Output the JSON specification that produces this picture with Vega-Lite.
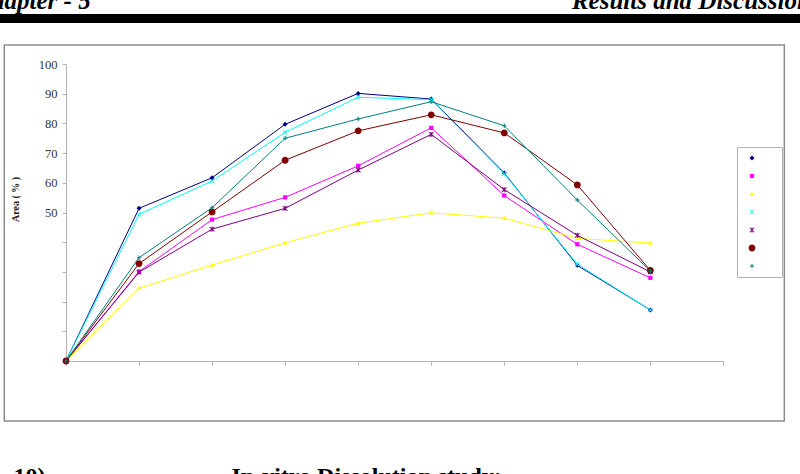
{
  "$schema": "https://vega.github.io/schema/vega-lite/v6.json",
  "width": 657.4,
  "height": 297,
  "autosize": {"type": "none"},
  "padding": {"left": 66, "top": 64, "right": 76.6, "bottom": 113},
  "background": "white",
  "title": {
    "text": "Chapter - 5\u00a0\u00a0\u00a0\u00a0\u00a0\u00a0\u00a0\u00a0\u00a0\u00a0\u00a0\u00a0\u00a0\u00a0\u00a0\u00a0\u00a0\u00a0\u00a0\u00a0\u00a0\u00a0\u00a0\u00a0\u00a0\u00a0\u00a0\u00a0\u00a0\u00a0\u00a0\u00a0\u00a0\u00a0\u00a0\u00a0\u00a0\u00a0\u00a0\u00a0\u00a0\u00a0\u00a0\u00a0\u00a0\u00a0\u00a0\u00a0\u00a0\u00a0\u00a0\u00a0\u00a0\u00a0\u00a0\u00a0\u00a0\u00a0\u00a0\u00a0\u00a0\u00a0\u00a0\u00a0\u00a0\u00a0\u00a0\u00a0\u00a0\u00a0\u00a0\u00a0\u00a0\u00a0\u00a0\u00a0\u00a0Results and Discussion",
    "anchor": "start",
    "frame": "group",
    "orient": "top",
    "dx": -92,
    "offset": -20,
    "baseline": "alphabetic",
    "font": "Liberation Serif",
    "fontSize": 25,
    "fontWeight": "bold",
    "fontStyle": "italic",
    "color": "black"
  },
  "layer": [
    {
      "data": {"values": [{}]},
      "mark": {"type": "rect", "fill": "transparent", "stroke": "#8c8c8c", "strokeWidth": 1.5},
      "encoding": {
        "x": {
          "datum": -0.845, "type": "quantitative",
          "scale": {"domain": [0, 9], "nice": false, "zero": false},
          "axis": {
            "values": [0, 1, 2, 3, 4, 5, 6, 7, 8, 9],
            "labels": false, "domain": true, "domainColor": "#b4b4b4", "grid": false,
            "tickSize": 4, "tickColor": "#b4b4b4",
            "title": "10)\u00a0\u00a0\u00a0\u00a0\u00a0\u00a0\u00a0\u00a0\u00a0\u00a0\u00a0\u00a0\u00a0\u00a0\u00a0\u00a0\u00a0\u00a0\u00a0\u00a0\u00a0\u00a0\u00a0\u00a0\u00a0\u00a0\u00a0\u00a0\u00a0\u00a0\u00a0In-vitro Dissolution study:",
            "titleX": -53, "titleY": 122, "titleAnchor": "start", "titleAlign": "left", "titleBaseline": "alphabetic",
            "titleFont": "Liberation Serif", "titleFontSize": 24, "titleFontWeight": "bold", "titleColor": "black"
          }
        },
        "x2": {"datum": 9.834},
        "y": {
          "datum": -20.2, "type": "quantitative",
          "scale": {"domain": [0, 100], "nice": false, "zero": false},
          "axis": {
            "values": [0, 10, 20, 30, 40, 50, 60, 70, 80, 90, 100],
            "labelExpr": "datum.value >= 50 ? datum.label : ''", "labelOverlap": false,
            "domain": true, "domainColor": "#b4b4b4", "grid": false,
            "tickSize": 4, "tickColor": "#b4b4b4",
            "labelFont": "Liberation Serif", "labelFontSize": 12.5, "labelColor": "#333333", "labelPadding": 5,
            "title": "Area ( % )",
            "titleX": -51, "titleY": 135, "titleAngle": 270, "titleAlign": "center", "titleBaseline": "middle",
            "titleFont": "Liberation Serif", "titleFontSize": 10, "titleFontWeight": "bold", "titleColor": "#222222"
          }
        },
        "y2": {"datum": 106.4}
      }
    },
    {
      "data": {"values": [{}]},
      "mark": {"type": "rule", "stroke": "black", "strokeWidth": 9},
      "encoding": {
        "x": {
          "datum": -0.91, "type": "quantitative",
          "scale": {"domain": [0, 9], "nice": false, "zero": false},
          "axis": {
            "values": [0, 1, 2, 3, 4, 5, 6, 7, 8, 9],
            "labels": false, "domain": true, "domainColor": "#b4b4b4", "grid": false,
            "tickSize": 4, "tickColor": "#b4b4b4",
            "title": "10)\u00a0\u00a0\u00a0\u00a0\u00a0\u00a0\u00a0\u00a0\u00a0\u00a0\u00a0\u00a0\u00a0\u00a0\u00a0\u00a0\u00a0\u00a0\u00a0\u00a0\u00a0\u00a0\u00a0\u00a0\u00a0\u00a0\u00a0\u00a0\u00a0\u00a0\u00a0In-vitro Dissolution study:",
            "titleX": -53, "titleY": 122, "titleAnchor": "start", "titleAlign": "left", "titleBaseline": "alphabetic",
            "titleFont": "Liberation Serif", "titleFontSize": 24, "titleFontWeight": "bold", "titleColor": "black"
          }
        },
        "x2": {"datum": 10.1},
        "y": {
          "datum": 115.3, "type": "quantitative",
          "scale": {"domain": [0, 100], "nice": false, "zero": false},
          "axis": {
            "values": [0, 10, 20, 30, 40, 50, 60, 70, 80, 90, 100],
            "labelExpr": "datum.value >= 50 ? datum.label : ''", "labelOverlap": false,
            "domain": true, "domainColor": "#b4b4b4", "grid": false,
            "tickSize": 4, "tickColor": "#b4b4b4",
            "labelFont": "Liberation Serif", "labelFontSize": 12.5, "labelColor": "#333333", "labelPadding": 5,
            "title": "Area ( % )",
            "titleX": -51, "titleY": 135, "titleAngle": 270, "titleAlign": "center", "titleBaseline": "middle",
            "titleFont": "Liberation Serif", "titleFontSize": 10, "titleFontWeight": "bold", "titleColor": "#222222"
          }
        }
      }
    },
    {
      "data": {
        "values": [
          {"t": 0, "v": 0, "s": "F1"}, {"t": 1, "v": 51.4, "s": "F1"}, {"t": 2, "v": 61.7, "s": "F1"}, {"t": 3, "v": 79.7, "s": "F1"}, {"t": 4, "v": 90.1, "s": "F1"}, {"t": 5, "v": 88.2, "s": "F1"}, {"t": 6, "v": 63.3, "s": "F1"}, {"t": 7, "v": 32.2, "s": "F1"}, {"t": 8, "v": 17.2, "s": "F1"},
          {"t": 0, "v": 0, "s": "F2"}, {"t": 1, "v": 30.1, "s": "F2"}, {"t": 2, "v": 47.6, "s": "F2"}, {"t": 3, "v": 55.1, "s": "F2"}, {"t": 4, "v": 65.7, "s": "F2"}, {"t": 5, "v": 78.5, "s": "F2"}, {"t": 6, "v": 55.7, "s": "F2"}, {"t": 7, "v": 39.3, "s": "F2"}, {"t": 8, "v": 28.0, "s": "F2"},
          {"t": 0, "v": 0, "s": "F3"}, {"t": 1, "v": 24.5, "s": "F3"}, {"t": 2, "v": 32.3, "s": "F3"}, {"t": 3, "v": 39.8, "s": "F3"}, {"t": 4, "v": 46.4, "s": "F3"}, {"t": 5, "v": 49.9, "s": "F3"}, {"t": 6, "v": 48.1, "s": "F3"}, {"t": 7, "v": 41.3, "s": "F3"}, {"t": 8, "v": 39.7, "s": "F3"},
          {"t": 0, "v": 0, "s": "F4"}, {"t": 1, "v": 49.4, "s": "F4"}, {"t": 2, "v": 60.6, "s": "F4"}, {"t": 3, "v": 77.0, "s": "F4"}, {"t": 4, "v": 88.8, "s": "F4"}, {"t": 5, "v": 88.0, "s": "F4"}, {"t": 6, "v": 63.0, "s": "F4"}, {"t": 7, "v": 32.6, "s": "F4"}, {"t": 8, "v": 17.2, "s": "F4"},
          {"t": 0, "v": 0, "s": "F5"}, {"t": 1, "v": 29.9, "s": "F5"}, {"t": 2, "v": 44.4, "s": "F5"}, {"t": 3, "v": 51.4, "s": "F5"}, {"t": 4, "v": 64.3, "s": "F5"}, {"t": 5, "v": 76.3, "s": "F5"}, {"t": 6, "v": 57.7, "s": "F5"}, {"t": 7, "v": 42.3, "s": "F5"}, {"t": 8, "v": 30.0, "s": "F5"},
          {"t": 0, "v": 0, "s": "F6"}, {"t": 1, "v": 32.8, "s": "F6"}, {"t": 2, "v": 50.2, "s": "F6"}, {"t": 3, "v": 67.6, "s": "F6"}, {"t": 4, "v": 77.5, "s": "F6"}, {"t": 5, "v": 82.9, "s": "F6"}, {"t": 6, "v": 76.8, "s": "F6"}, {"t": 7, "v": 59.3, "s": "F6"}, {"t": 8, "v": 30.5, "s": "F6"},
          {"t": 0, "v": 0, "s": "F7"}, {"t": 1, "v": 34.8, "s": "F7"}, {"t": 2, "v": 51.6, "s": "F7"}, {"t": 3, "v": 75.0, "s": "F7"}, {"t": 4, "v": 81.5, "s": "F7"}, {"t": 5, "v": 87.3, "s": "F7"}, {"t": 6, "v": 79.2, "s": "F7"}, {"t": 7, "v": 54.2, "s": "F7"}, {"t": 8, "v": 30.3, "s": "F7"}
        ]
      },
      "encoding": {
        "x": {
          "field": "t", "type": "quantitative",
          "scale": {"domain": [0, 9], "nice": false, "zero": false},
          "axis": {
            "values": [0, 1, 2, 3, 4, 5, 6, 7, 8, 9],
            "labels": false, "domain": true, "domainColor": "#b4b4b4", "grid": false,
            "tickSize": 4, "tickColor": "#b4b4b4",
            "title": "10)\u00a0\u00a0\u00a0\u00a0\u00a0\u00a0\u00a0\u00a0\u00a0\u00a0\u00a0\u00a0\u00a0\u00a0\u00a0\u00a0\u00a0\u00a0\u00a0\u00a0\u00a0\u00a0\u00a0\u00a0\u00a0\u00a0\u00a0\u00a0\u00a0\u00a0\u00a0In-vitro Dissolution study:",
            "titleX": -53, "titleY": 122, "titleAnchor": "start", "titleAlign": "left", "titleBaseline": "alphabetic",
            "titleFont": "Liberation Serif", "titleFontSize": 24, "titleFontWeight": "bold", "titleColor": "black"
          }
        },
        "y": {
          "field": "v", "type": "quantitative",
          "scale": {"domain": [0, 100], "nice": false, "zero": false},
          "axis": {
            "values": [0, 10, 20, 30, 40, 50, 60, 70, 80, 90, 100],
            "labelExpr": "datum.value >= 50 ? datum.label : ''", "labelOverlap": false,
            "domain": true, "domainColor": "#b4b4b4", "grid": false,
            "tickSize": 4, "tickColor": "#b4b4b4",
            "labelFont": "Liberation Serif", "labelFontSize": 12.5, "labelColor": "#333333", "labelPadding": 5,
            "title": "Area ( % )",
            "titleX": -51, "titleY": 135, "titleAngle": 270, "titleAlign": "center", "titleBaseline": "middle",
            "titleFont": "Liberation Serif", "titleFontSize": 10, "titleFontWeight": "bold", "titleColor": "#222222"
          }
        },
        "color": {
          "field": "s", "type": "nominal",
          "scale": {"domain": ["F1", "F2", "F3", "F4", "F5", "F6", "F7"], "range": ["#000080", "#ff00ff", "#ffff00", "#00ffff", "#800080", "#800000", "#008080"]},
          "legend": {
            "orient": "none",
            "legendX": 671,
            "legendY": 83,
            "title": null,
            "labelExpr": "''",
            "symbolSize": 100,
            "symbolStrokeWidth": 0,
            "symbolOpacity": 1,
            "symbolOffset": 4,
            "labelOffset": 19,
            "padding": 6,
            "rowPadding": 8.0,
            "strokeColor": "#b0b0b0",
            "fillColor": "white"
          }
        }
      },
      "layer": [
        {
          "mark": {"type": "line", "strokeWidth": 1},
          "encoding": {"detail": {"field": "s"}}
        },
        {
          "mark": {"type": "point", "filled": true, "size": 100, "opacity": 1, "strokeWidth": 0},
          "encoding": {
            "shape": {
              "field": "s", "type": "nominal",
              "scale": {
                "domain": ["F1", "F2", "F3", "F4", "F5", "F6", "F7"],
                "range": [
                  "M0,-0.5L0.5,0L0,0.5L-0.5,0Z",
                  "M-0.42,-0.42L0.42,-0.42L0.42,0.42L-0.42,0.42Z",
                  "M0,-0.5L0.46,0.35L-0.46,0.35Z",
                  "M-0.33,-0.47L0.47,0.33L0.33,0.47L-0.47,-0.33ZM-0.47,0.33L0.33,-0.47L0.47,-0.33L-0.33,0.47Z",
                  "M-0.38,-0.52L0.52,0.38L0.38,0.52L-0.52,-0.38ZM-0.52,0.38L0.38,-0.52L0.52,-0.38L-0.38,0.52ZM-0.1,-0.5L0.1,-0.5L0.1,0.5L-0.1,0.5Z",
                  "M0.68,0A0.68,0.68,0,1,1,-0.68,0A0.68,0.68,0,1,1,0.68,0Z",
                  "M-0.45,-0.1L0.45,-0.1L0.45,0.1L-0.45,0.1ZM-0.1,-0.45L0.1,-0.45L0.1,0.45L-0.1,0.45Z"
                ]
              },
              "legend": null
            }
          }
        }
      ]
    }
  ],
  "config": {
    "view": {"stroke": "transparent"}
  }
}
